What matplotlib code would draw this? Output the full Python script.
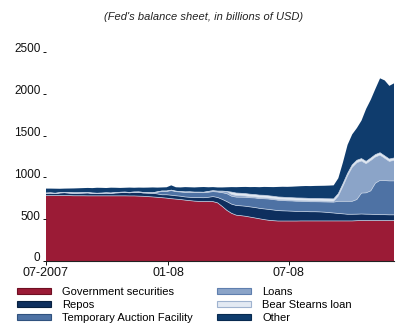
import matplotlib
matplotlib.use("Agg")
import matplotlib.pyplot as plt
import matplotlib.transforms as mtransforms
import numpy as np
import pandas as pd
from matplotlib.patches import Patch

plt.rcParams["font.family"] = ["Liberation Sans", "DejaVu Sans"]

# weekly observations, 1 Jul 2007 - 7 Dec 2008 (billions of USD)
weeks = pd.date_range("2007-07-01", periods=76, freq="7D")

gov_securities = [
    782, 782, 782, 782, 782, 782,
    780, 780, 780, 779, 779, 779, 779,
    779, 779, 779, 779, 779, 778,
    778, 776, 774, 770,
    766, 762, 757, 752,
    745, 740, 735, 728, 722, 716, 713, 712, 712, 710,
    695, 652, 605, 570, 548, 542, 535, 525, 515, 505, 495, 487, 482,
    478, 478, 478, 478, 478, 479, 479, 479, 479, 479, 479, 479, 479,
    479, 479, 479, 479, 482, 484, 484, 484, 484, 484, 484, 484, 484,
]
repos = [
    28, 30, 25, 32, 35, 30, 28, 30, 32, 35, 30, 28, 30, 33, 30, 35, 38, 40, 38, 42, 45, 40, 42,
    45, 40, 35, 40, 42, 40, 40, 38, 40, 42, 45, 45, 50, 60,
    65, 85, 105, 110, 116, 118, 120, 122, 125, 125, 128, 130, 128,
    125, 122, 120, 118, 115, 115, 112, 110, 110, 108, 105, 100, 95,
    90, 85, 80, 80, 78, 78, 76, 75, 72, 70, 70, 68, 68,
]
taf = [
    0, 0, 0, 0, 0, 0, 0, 0, 0, 0, 0, 0, 0, 0, 0, 0, 0, 0, 0, 0, 0, 0, 0, 0,
    20, 40, 40, 55, 50, 50, 55, 60, 60, 60, 60, 60, 60,
    65, 80, 95, 95, 100, 103, 107, 110, 114, 117, 122, 124, 125,
    124, 124, 122, 122, 122, 120, 121, 120, 120, 121, 122, 126, 130,
    145, 150, 155, 155, 175, 250, 255, 280, 375, 410, 408, 406, 406,
]
loans = [
    2, 2, 3, 3, 4, 6, 8, 6, 5, 4, 4, 3, 3, 3, 4, 4, 5, 5, 4, 5, 5, 6, 5,
    5, 5, 5, 5, 5, 5, 5, 5, 5, 5, 5, 5, 10, 10,
    10, 18, 27, 20, 20, 18, 15, 13, 12, 12, 12, 10, 10,
    10, 10, 10, 10, 10, 10, 10, 10, 10, 10, 10, 10, 10,
    63, 180, 305, 407, 441, 384, 348, 363, 313, 302, 267, 233, 245,
]
bear_stearns = [0] * 40 + [29] * 36
other = [
    54, 52, 55, 47, 45, 49, 52, 54, 55, 56, 59, 66, 63, 58, 64, 58, 52, 52, 58, 51, 52, 57, 61,
    64, 51, 43, 45, 58, 47, 50, 58, 55, 57, 60, 63, 50, 44,
    45, 45, 50, 60, 70, 75, 80, 85, 90, 95, 100, 105, 110,
    120, 125, 128, 132, 138, 142, 146, 148, 150, 152, 155, 158, 162,
    184, 257, 342, 365, 385, 455, 628, 699, 787, 890, 902, 875, 893,
]

labels = ["Government securities", "Repos", "Temporary Auction Facility",
          "Loans", "Bear Stearns loan", "Other"]
colors = ["#9b1b36", "#0e2f5e", "#4e72a4", "#8ba4c8", "#e3eaf3", "#0f3c6d"]
edge_colors = ["#6e0f22", "#08203f", "#30527f", "#5f7fae", "#9fb3cf", "#082a50"]

series = [gov_securities, repos, taf, loans, bear_stearns, other]
x_ticks = pd.to_datetime(["2007-07-01", "2008-01-01", "2008-07-01"])
x_labels = ["07-2007", "01-08", "07-08"]
y_ticks = [0, 500, 1000, 1500, 2000, 2500]

fig = plt.figure(figsize=(4.09, 3.36), dpi=100)
ax = fig.add_axes([46 / 409, 1 - 261 / 336, 348 / 409, 209 / 336])

ax.stackplot(weeks, *series, colors=colors, linewidth=0)
bounds = np.cumsum(np.array(series), axis=0)
for b in bounds[:-1]:
    ax.plot(weeks, b, color="#c3d0e3", lw=0.5)

ax.set_xlim(weeks[0], weeks[-1])
ax.set_ylim(0, 2500)
ax.set_xticks(x_ticks)
ax.set_xticklabels(x_labels)
ax.set_yticks(y_ticks)
for side in ["top", "right", "left"]:
    ax.spines[side].set_visible(False)
ax.spines["bottom"].set_color("#222222")
ax.spines["bottom"].set_linewidth(0.8)
ax.tick_params(axis="x", length=3, width=0.7, pad=1, labelsize=9, colors="#111111")
ax.tick_params(axis="y", length=2, width=0.7, pad=2, labelsize=8.5, colors="#111111")

# y labels sit a little above their tick marks
lift = mtransforms.ScaledTranslation(0, 3 / 72, fig.dpi_scale_trans)
for lbl in ax.get_yticklabels():
    lbl.set_transform(lbl.get_transform() + lift)

fig.text(0.497, 1 - 17 / 336, "(Fed's balance sheet, in billions of USD)",
         ha="center", va="center", style="italic", fontsize=8, color="#222222")

handles = [Patch(facecolor=c, edgecolor=e, linewidth=0.8) for c, e in zip(colors, edge_colors)]
fig.legend(handles, labels, ncol=2, loc="upper left",
           bbox_to_anchor=(11 / 409, 1 - 281 / 336), frameon=False, fontsize=8,
           borderpad=0, handlelength=3.1, handleheight=0.45, handletextpad=1.0,
           labelspacing=0.3, columnspacing=2.15)

fig.savefig("out.png", dpi=100)
